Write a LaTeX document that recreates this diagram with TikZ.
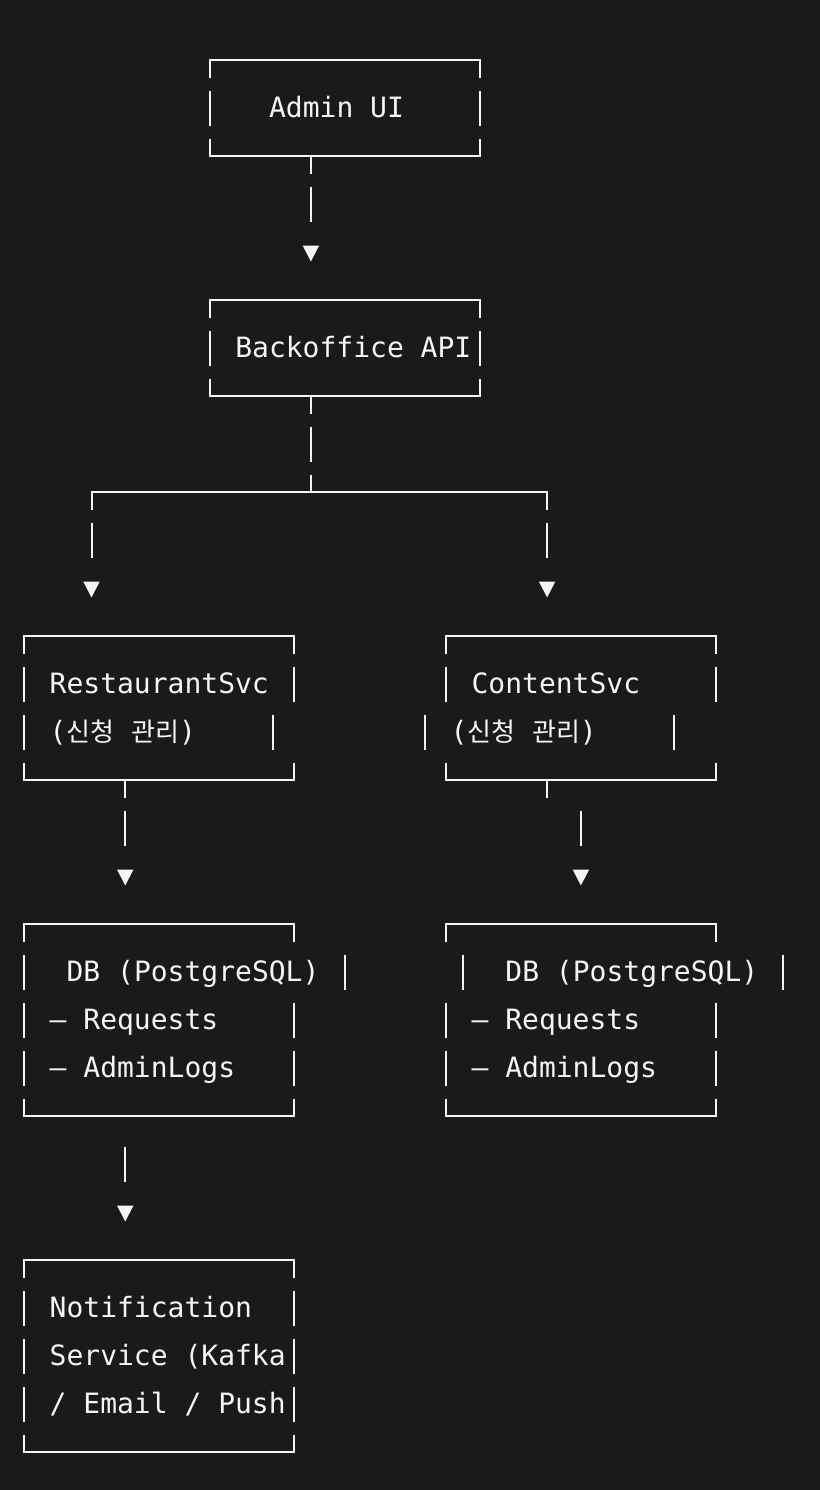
\documentclass[tikz,border=0pt]{standalone}
\usepackage{fontspec}
\setmonofont{DejaVu Sans Mono}
\newfontfamily\krfont{Noto Sans CJK KR}
\newcommand{\ko}[1]{{\krfont\fontsize{13pt}{14pt}\selectfont #1}}
\usetikzlibrary{arrows.meta}
\definecolor{bg}{HTML}{1A1A1A}
\definecolor{fg}{HTML}{F5F5F5}
\tikzset{
  glyph/.style={draw=fg, line width=1pt},
  side/.style={glyph, dash pattern=on 17.5pt off 6.5pt, dash phase=8.75pt},
  frame/.style={rectangle, draw=none, inner sep=0pt, outer sep=0pt, minimum width=135pt},
  txt/.style={anchor=base west, inner sep=0pt, text=fg, font=\ttfamily\fontsize{14pt}{14pt}\selectfont},
  link/.style={glyph, -{Triangle[length=8pt, width=8pt]}, shorten >=19.25pt,
    dash pattern=on 8.75pt off 6.5pt on 17.5pt off 60pt},
  loose/.style={link, dash pattern=on 0pt off 15.25pt on 17.5pt off 60pt},
}
% top and bottom rule of a box, with the corner ticks
\newcommand{\asciiframe}[1]{%
  \draw[glyph] ([yshift=-8.75pt]#1.north west) -- (#1.north west) -- (#1.north east) -- ([yshift=-8.75pt]#1.north east);
  \draw[glyph] ([yshift=8.75pt]#1.south west) -- (#1.south west) -- (#1.south east) -- ([yshift=8.75pt]#1.south east);}
% one side bar of a text row
\newcommand{\rowbar}[2]{\draw[glyph] (#1,#2-17.5) -- (#1,#2+17.5);}
\begin{document}
\begin{tikzpicture}[x=0.5pt,y=-0.5pt]
\fill[bg] (0,0) rectangle (820,1490);

% boxes
\node[frame, minimum height=48pt] (admin) at (344.6,108) {};
\node[frame, minimum height=48pt] (backoffice) at (344.6,348) {};
\node[frame, minimum height=72pt] (rs) at (159,708) {};
\node[frame, minimum height=72pt] (cs) at (580.9,708) {};
\node[frame, minimum height=96pt] (dbl) at (159,1020) {};
\node[frame, minimum height=96pt] (dbr) at (580.9,1020) {};
\node[frame, minimum height=96pt] (noti) at (159,1356) {};
\foreach \b in {admin,backoffice,rs,cs,dbl,dbr,noti} {\asciiframe{\b}}

% sides
\draw[side] (admin.north west) -- (admin.south west);
\draw[side] (admin.north east) -- (admin.south east);
\draw[side] (backoffice.north west) -- (backoffice.south west);
\draw[side] (backoffice.north east) -- (backoffice.south east);
\draw[side] (rs.north west) -- (rs.south west);
\draw[side] (dbl.north west) -- (dbl.south west);
\draw[side] (noti.north west) -- (noti.south west);
\draw[side] (noti.north east) -- (noti.south east);
\foreach \x/\y in {294/684, 273.1/732,
    445.9/684, 425/732, 715.9/684, 674/732,
    344.6/972, 294/1020, 294/1068,
    462.75/972, 445.9/1020, 445.9/1068,
    783.4/972, 715.9/1020, 715.9/1068}
  \rowbar{\x}{\y};

% texts
\node[txt] (admin-t) at (268.7,117.5) {Admin UI};
\node[txt] (backoffice-t) at (234.9,357.5) {Backoffice API};
\node[txt] (rs-t1) at (49.3,693.5) {RestaurantSvc};
\node[txt] (rs-t2) at (49.3,741.5) {(\ko{신청} \ko{관리})};
\node[txt] (cs-t1) at (471.2,693.5) {ContentSvc};
\node[txt] (cs-t2) at (450.2,741.5) {(\ko{신청} \ko{관리})};
\node[txt] (dbl-t1) at (66.2,981.5) {DB (PostgreSQL)};
\node[txt] (dbl-t2) at (49.3,1029.5) {– Requests};
\node[txt] (dbl-t3) at (49.3,1077.5) {– AdminLogs};
\node[txt] (dbr-t1) at (505,981.5) {DB (PostgreSQL)};
\node[txt] (dbr-t2) at (471.2,1029.5) {– Requests};
\node[txt] (dbr-t3) at (471.2,1077.5) {– AdminLogs};
\node[txt] (noti-t1) at (49.3,1317.5) {Notification};
\node[txt] (noti-t2) at (49.3,1365.5) {Service (Kafka};
\node[txt] (noti-t3) at (49.3,1413.5) {/ Email / Push};

% connectors
\coordinate (trunk) at (310.9,0);
\coordinate (lsplit) at (91.5,492);
\coordinate (rsplit) at (547.1,492);
\coordinate (rsdrop) at (125.25,0);
\coordinate (csdrop) at (547.1,0);
\coordinate (csjog) at (580.9,0);
\draw[link] (admin.south -| trunk) -- (backoffice.north -| trunk);
\draw[side] (backoffice.south -| trunk) -- (trunk |- lsplit);
\draw[glyph] ([yshift=-8.75pt]lsplit) -- (lsplit) -- (rsplit) -- ([yshift=-8.75pt]rsplit);
\draw[link] (lsplit) -- (rs.north -| lsplit);
\draw[link] (rsplit) -- (cs.north -| rsplit);
\draw[link] (rs.south -| rsdrop) -- (dbl.north -| rsdrop);
\draw[glyph] (cs.south -| csdrop) -- ++(0,17.5);
\draw[loose] (cs.south -| csjog) -- (dbr.north -| csjog);
\draw[loose] (dbl.south -| rsdrop) -- (noti.north -| rsdrop);
\end{tikzpicture}
\end{document}
